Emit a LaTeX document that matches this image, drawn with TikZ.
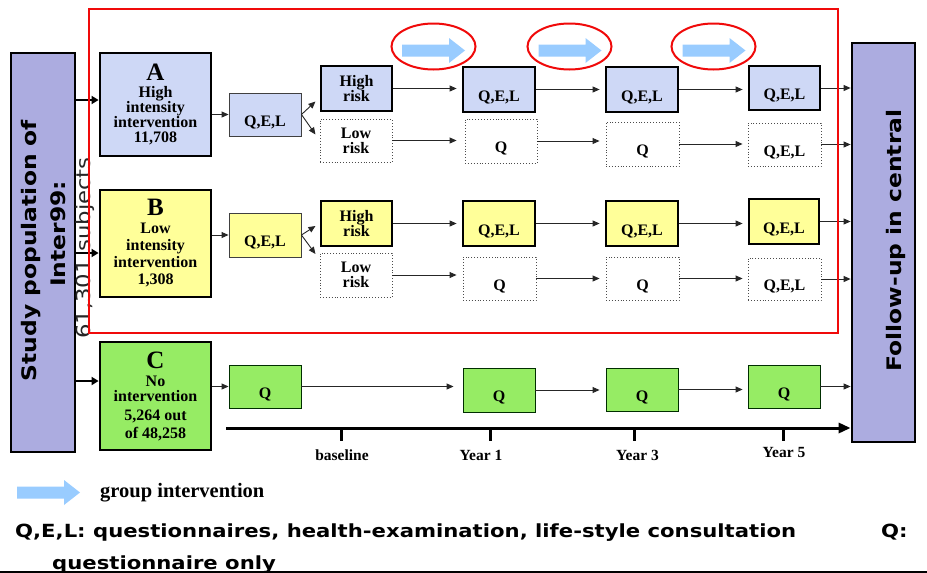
\documentclass[tikz,border=0pt]{standalone}
\usepackage{fontspec}
\setmainfont{Liberation Serif}
\newfontfamily\vsans[FakeStretch=1.17]{DejaVu Sans}
\usetikzlibrary{arrows.meta,calc}
\definecolor{sidec}{RGB}{172,172,224}
\definecolor{bluec}{RGB}{206,216,246}
\definecolor{yelc}{RGB}{255,255,153}
\definecolor{grnc}{RGB}{150,236,100}
\definecolor{garrc}{RGB}{153,204,255}
\definecolor{redc}{RGB}{240,10,10}
\newcommand\bx[7]{\node[#2,minimum width=#5pt,minimum height=#6pt] (#1) at (#3,#4) {#7};}
\newcommand\garrow[2]{\fill[garrc,shift={(#1,#2)}] (0,-6)--(47,-6)--(47,-12.5)--(63,0)--(47,12.5)--(47,6)--(0,6)--cycle;}
\begin{document}
\begin{tikzpicture}[x=1pt,y=-1pt,
 box/.style={draw,anchor=center,inner sep=0pt,align=center,font=\bfseries\fontsize{16}{15}\selectfont},
 thk/.style={box,line width=2.8pt},
 thn/.style={box,line width=0.9pt,draw=black!75},
 dot/.style={box,line width=0.9pt,dotted,draw=black!70,fill=white},
 lowq/.style={text height=23pt,text depth=0pt},
 arr/.style={draw=black!85,line width=0.9pt,-{Triangle[length=7pt,width=6pt]}},
 parr/.style={draw=black,line width=1.8pt,-{Triangle[length=7pt,width=8pt]}},
 vtxt/.style={rotate=90,inner sep=0pt,font=\vsans\bfseries\fontsize{20}{20}\selectfont},
 lbl/.style={inner sep=0pt,anchor=base,font=\bfseries\fontsize{15.5}{15}\selectfont},
 legtxt/.style={inner sep=0pt,anchor=base west,font=\vsans\bfseries\fontsize{18.1}{18}\selectfont},
 ]
\useasboundingbox (0,0) rectangle (927,573);
\fill[white] (0,0) rectangle (927,573);

% side boxes
\node[draw,line width=2.8pt,fill=sidec,minimum width=64pt,minimum height=399pt,inner sep=0pt] (pop) at (43,252.5) {};
\node[draw,line width=2.8pt,fill=sidec,minimum width=63pt,minimum height=399pt,inner sep=0pt] (fu) at (883.5,242.5) {};
\node[vtxt] (pt1) at (31,250.5) {Study population of};
\node[vtxt] (pt2) at (58,234) {Inter99:};
\node[rotate=90,inner sep=0pt,font=\vsans\fontsize{19.5}{19}\selectfont,text=black!85] (pt3) at (85,248) {61,301 subjects};
\node[vtxt] (fut) at (896,240.5) {Follow-up in central};

% group boxes
\bx{A}{thk,fill=bluec}{155.5}{104.5}{111}{103}{{\fontsize{25}{20}\selectfont A}\\[2pt]High\\intensity\\intervention\\11,708}
\bx{B}{thk,fill=yelc,font=\bfseries\fontsize{16}{17}\selectfont}{155.5}{243.5}{111}{107}{{\fontsize{25}{20}\selectfont B}\\[1pt]Low\\intensity\\intervention\\1,308}
\bx{C}{thk,fill=grnc}{155.5}{396}{111}{108}{{\fontsize{25}{20}\selectfont C}\\[3pt]No\\[0pt]intervention\\[4pt]5,264 out\\[3pt]of 48,258}

% baseline boxes
\bx{qa}{thn,fill=bluec,lowq}{265}{114.5}{72}{43}{Q,E,L}
\bx{qb}{thn,fill=yelc,lowq}{265}{235}{72}{44}{Q,E,L}
\bx{qc}{thn,fill=grnc,draw=black!70!green!60!black,lowq}{265}{386.5}{72}{43}{Q}

% risk boxes
\bx{hra}{thk,fill=bluec}{356.5}{88.5}{71}{45}{High\\risk}
\bx{lra}{dot}{356}{140.5}{72}{43}{Low\\risk}
\bx{hrb}{thk,fill=yelc}{356.5}{223.5}{71}{45}{High\\risk}
\bx{lrb}{dot}{356}{275}{72}{44}{Low\\risk}

% year boxes row A
\bx{a1}{thk,fill=bluec,lowq}{499}{89.5}{72}{45}{Q,E,L}
\bx{la1}{dot,lowq}{501}{141}{72}{44}{Q}
\bx{a3}{thk,fill=bluec,lowq}{642}{89.5}{72}{45}{Q,E,L}
\bx{la3}{dot,lowq}{642.5}{144}{73}{44}{Q}
\bx{a5}{thk,fill=bluec,lowq}{784.5}{88}{71}{44}{Q,E,L}
\bx{la5}{dot,lowq}{784.5}{144.5}{73}{43}{Q,E,L}
% row B
\bx{b1}{thk,fill=yelc,lowq}{499}{223.5}{72}{45}{Q,E,L}
\bx{lb1}{dot,lowq}{499.5}{278.5}{73}{43}{Q}
\bx{b3}{thk,fill=yelc,lowq}{642}{223.5}{72}{45}{Q,E,L}
\bx{lb3}{dot,lowq}{642.5}{278.5}{73}{43}{Q}
\bx{b5}{thk,fill=yelc,lowq}{784}{221.5}{70}{45}{Q,E,L}
\bx{lb5}{dot,lowq}{784.5}{279}{73}{42}{Q,E,L}
% row C
\bx{c1}{thn,fill=grnc,draw=black!70!green!60!black,lowq}{499}{390}{72}{44}{Q}
\bx{c3}{thn,fill=grnc,draw=black!70!green!60!black,lowq}{642}{389.5}{72}{43}{Q}
\bx{c5}{thn,fill=grnc,draw=black!70!green!60!black,lowq}{784}{386.5}{72}{43}{Q}

% arrows from population
\coordinate (ya) at (0,100);
\coordinate (yb) at (0,253);
\coordinate (yc) at (0,381);
\draw[parr] (pop.east |- ya) -- (A.west |- ya);
\draw[parr] (pop.east |- yb) -- (B.west |- yb);
\draw[parr] (pop.east |- yc) -- (C.west |- yc);

% to baseline boxes
\draw[arr] (A.east |- qa.west) -- (qa.west);
\draw[arr] (B.east |- qb.west) -- (qb.west);
\draw[arr] (C.east |- qc.west) -- (qc.west);

% forks
\draw[arr] (qa.east) -- ($(qa.east)+(14,-13)$);
\draw[arr] (qa.east) -- ($(qa.east)+(14,20)$);
\draw[arr] (qb.east) -- ($(qb.east)+(14,-9)$);
\draw[arr] (qb.east) -- ($(qb.east)+(14,19)$);

% horizontal arrows row A
\draw[arr,shorten >=5pt] (hra.east) -- (a1.west |- hra.east);
\draw[arr,shorten >=8pt] (lra.east) -- (la1.west |- lra.east);
\draw[arr,shorten >=5pt] (a1.east) -- (a3.west |- a1.east);
\draw[arr,shorten >=6pt] (la1.east) -- (la3.west |- la1.east);
\draw[arr,shorten >=5pt] (a3.east) -- (a5.west |- a3.east);
\draw[arr,shorten >=5pt] (la3.east) -- (la5.west |- la3.east);
\draw[arr] (a5.east) -- (a5.east -| fu.west);
\draw[arr] (la5.east) -- (la5.east -| fu.west);
% row B
\draw[arr,shorten >=5pt] (hrb.east) -- (b1.west |- hrb.east);
\draw[arr,shorten >=6pt] (lrb.east) -- (lb1.west |- lrb.east);
\draw[arr,shorten >=5pt] (b1.east) -- (b3.west |- b1.east);
\draw[arr,shorten >=6pt] (lb1.east) -- (lb3.west |- lb1.east);
\draw[arr,shorten >=5pt] (b3.east) -- (b5.west |- b3.east);
\draw[arr,shorten >=5pt] (lb3.east) -- (lb5.west |- lb3.east);
\draw[arr] (b5.east) -- (b5.east -| fu.west);
\draw[arr] (lb5.east) -- (lb5.east -| fu.west);
% row C
\draw[arr,shorten >=9pt] (qc.east) -- (c1.west |- qc.east);
\draw[arr,shorten >=6pt] (c1.east) -- (c3.west |- c1.east);
\draw[arr,shorten >=5pt] (c3.east) -- (c5.west |- c3.east);
\draw[arr] (c5.east) -- (c5.east -| fu.west);

% timeline
\coordinate (tl0) at (226,428);
\draw[line width=3pt,-{Triangle[length=12pt,width=10pt]}] (tl0) -- (tl0 -| fu.west);
\foreach \tx in {341,490,634,783} {\draw[line width=3pt] (\tx,428) -- (\tx,441);}
\node[lbl] (lb0) at (342,460) {baseline};
\node[lbl] (lb1t) at (481,460) {Year 1};
\node[lbl] (lb3t) at (637.5,460) {Year 3};
\node[lbl] (lb5t) at (784,457) {Year 5};

% red frame and group intervention marks
\draw[redc,line width=2pt] (89,9) rectangle (838,333);
\garrow{402}{50.5}
\garrow{538.5}{50.5}
\garrow{682.5}{50.5}
\draw[redc,line width=2pt] (433.5,46.5) ellipse [x radius=42pt,y radius=23pt];
\draw[redc,line width=2pt] (569.5,46.5) ellipse [x radius=42pt,y radius=23pt];
\draw[redc,line width=2pt] (713.5,46.5) ellipse [x radius=42pt,y radius=23pt];

% legend
\garrow{17}{492.5}
\node[inner sep=0pt,anchor=base west,font=\bfseries\fontsize{20.5}{20}\selectfont] (gi) at (100,497) {group intervention};
\node[legtxt] (leg1) at (15,537) {Q,E,L: questionnaires, health-examination, life-style consultation};
\node[legtxt] (leg2) at (881,537) {Q:};
\node[legtxt] (leg3) at (52,569) {questionnaire only};
\draw[line width=2pt] (0,571.5) -- (927,571.5);
\end{tikzpicture}
\end{document}
